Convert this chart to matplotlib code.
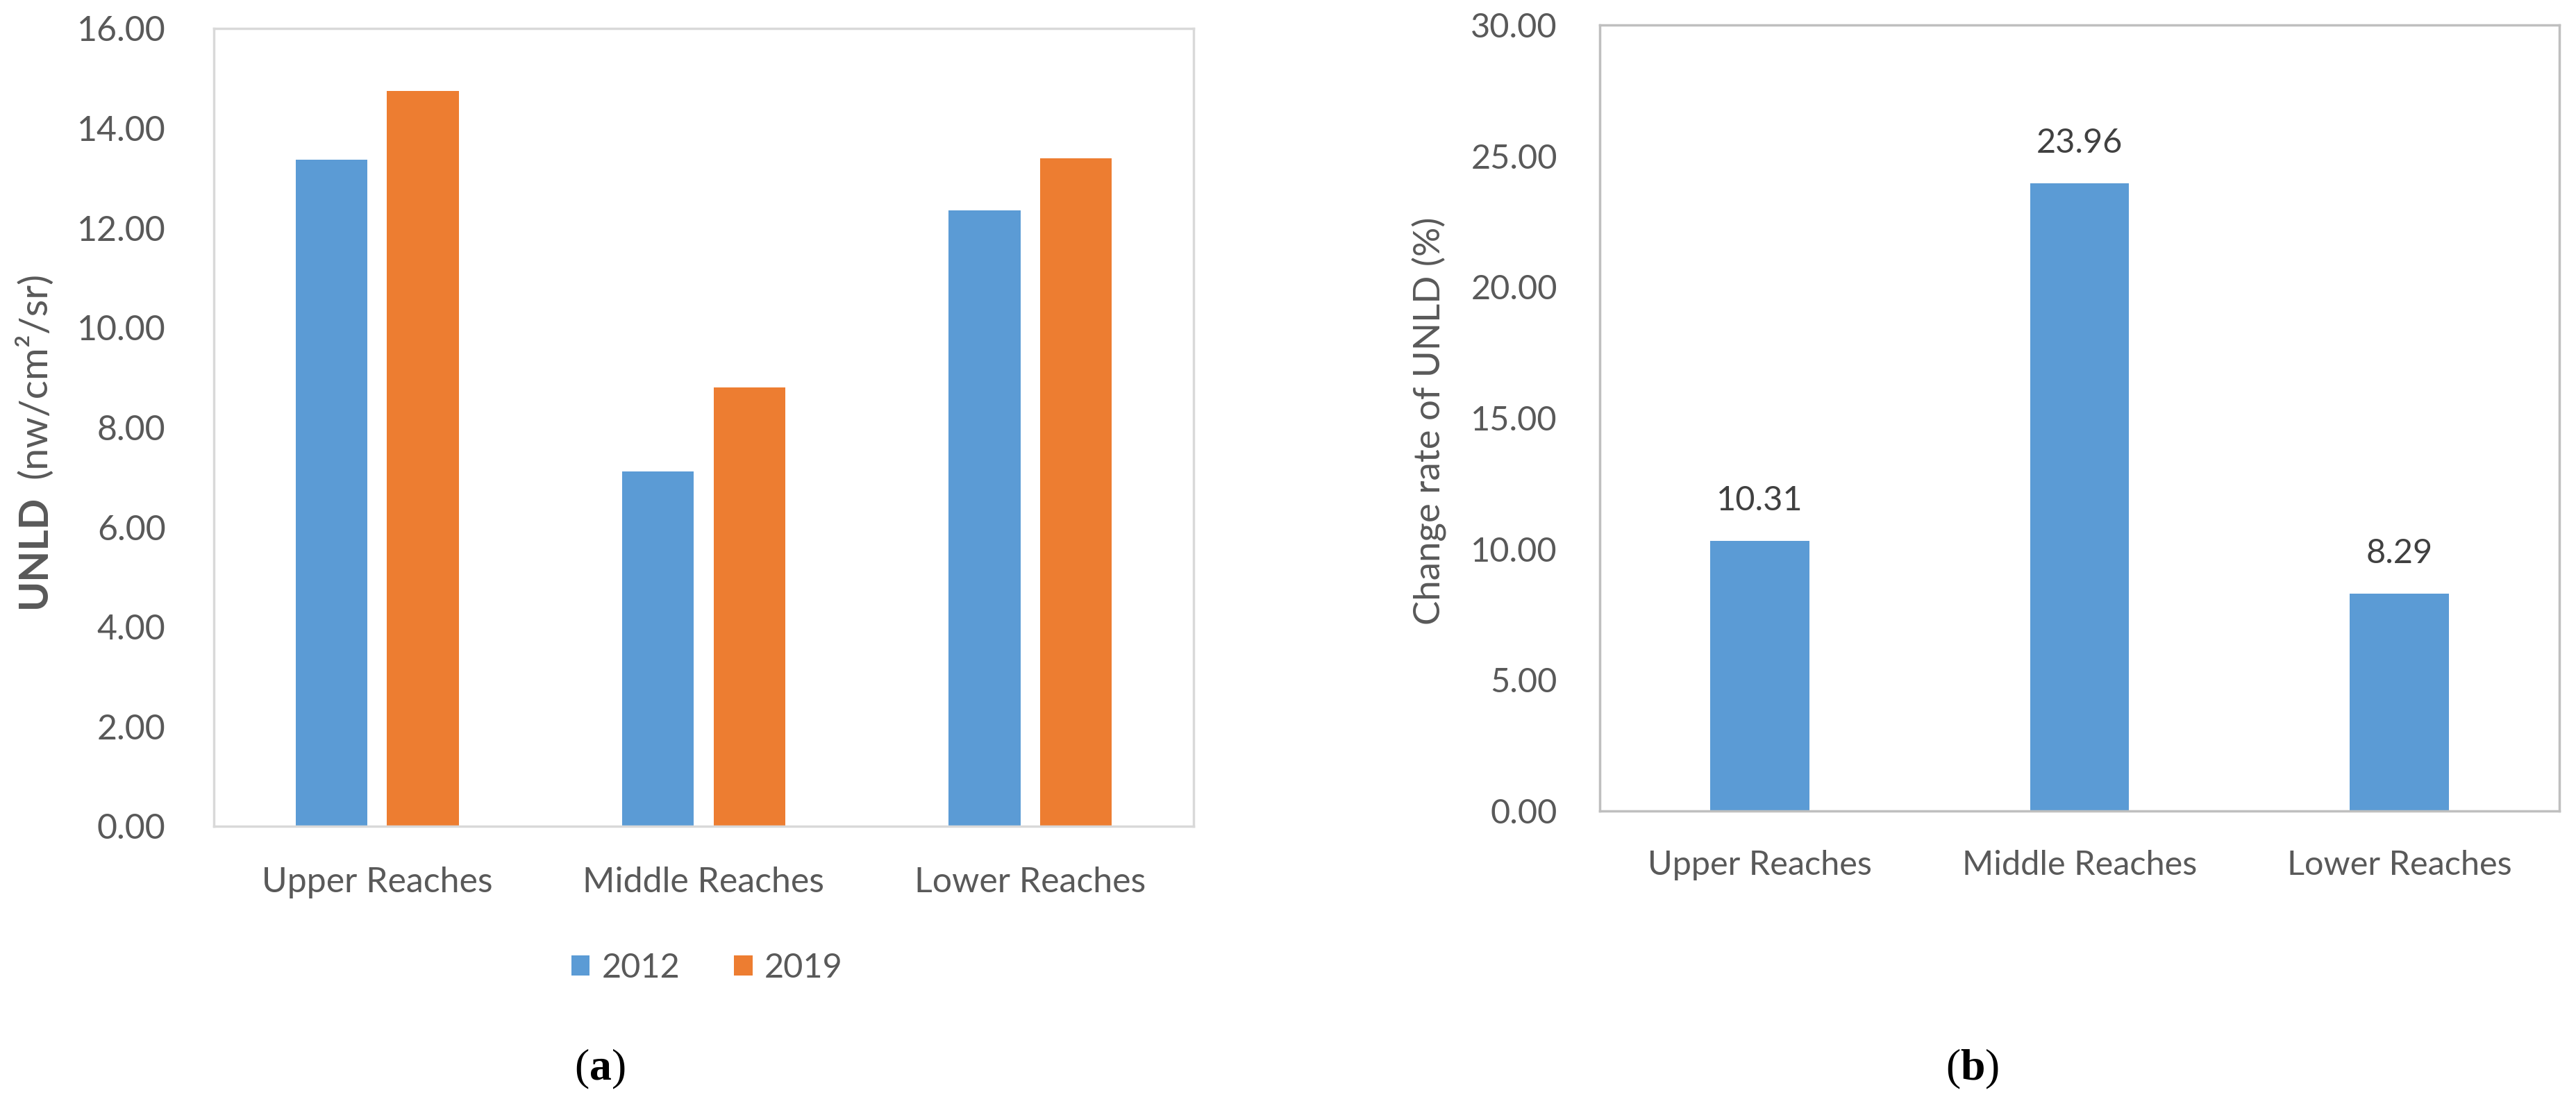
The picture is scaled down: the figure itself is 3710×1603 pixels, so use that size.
import numpy as np
import matplotlib
matplotlib.use("Agg")
import matplotlib.pyplot as plt

# Datos
categorias = ["Upper Reaches", "Middle Reaches", "Lower Reaches"]
anios = ["2012", "2019"]
unld_2012 = [13.37, 7.11, 12.35]
unld_2019 = [14.74, 8.80, 13.39]
tasa_cambio = [10.31, 23.96, 8.29]
ticks_a = [0, 2, 4, 6, 8, 10, 12, 14, 16]
ticks_b = [0, 5, 10, 15, 20, 25, 30]

azul = "#5B9BD5"
naranja = "#ED7D31"
gris_txt = "#595959"

plt.rcParams['font.family'] = ['Lato', 'DejaVu Sans']
plt.rcParams['mathtext.fontset'] = 'custom'
plt.rcParams['mathtext.rm'] = 'Liberation Serif'
plt.rcParams['mathtext.bf'] = 'Liberation Serif:bold'

W, H = 3710, 1603
fig = plt.figure(figsize=(W / 100, H / 100), dpi=100)
fig.patch.set_facecolor("white")

x = np.arange(len(categorias))

# ---- Panel (a)
ax1 = fig.add_axes([308 / W, 1 - 1190 / H, 1411 / W, 1149 / H])
ancho = 0.22
ax1.bar(x - 0.14, unld_2012, ancho, color=azul, label=anios[0], zorder=2)
ax1.bar(x + 0.14, unld_2019, ancho, color=naranja, label=anios[1], zorder=2)
ax1.set_xlim(-0.5, 2.5)
ax1.set_ylim(0, 16)
ax1.set_yticks(ticks_a)
ax1.set_yticklabels([f"{t:.2f}" for t in ticks_a])
ax1.set_xticks(x)
ax1.set_xticklabels(categorias)
ax1.tick_params(axis='y', length=0, pad=50, labelsize=36, labelcolor=gris_txt)
ax1.tick_params(axis='x', length=0, pad=42, labelsize=36, labelcolor=gris_txt)
for s in ax1.spines.values():
    s.set_color("#D9D9D9")
    s.set_linewidth(2.5)

# etiqueta del eje y: "UNLD" en negrita y las unidades a continuación
t1 = fig.text(66 / W, 1 - 876 / H, "UNLD", rotation=90, rotation_mode='anchor',
              ha='left', va='baseline', fontsize=42, fontweight='bold', color=gris_txt)
fig.canvas.draw()
bb = t1.get_window_extent()
fig.text(66 / W, (bb.y1 + 24) / H, "(nw/cm²/sr)", rotation=90, rotation_mode='anchor',
         ha='left', va='baseline', fontsize=41, color=gris_txt)

fig.legend(loc='center', bbox_to_anchor=(1018 / W, 1 - 1394 / H), ncol=2,
           frameon=False, fontsize=35, handlelength=0.55, handleheight=0.55,
           handletextpad=0.35, columnspacing=1.6, labelcolor=gris_txt)

# ---- Panel (b)
ax2 = fig.add_axes([2304 / W, 1 - 1168 / H, 1382 / W, 1132 / H])
barras = ax2.bar(x, tasa_cambio, 0.31, color=azul, zorder=2)
ax2.set_xlim(-0.5, 2.5)
ax2.set_ylim(0, 30)
ax2.set_yticks(ticks_b)
ax2.set_yticklabels([f"{t:.2f}" for t in ticks_b])
ax2.set_xticks(x)
ax2.set_xticklabels(categorias)
ax2.tick_params(axis='y', length=0, pad=44, labelsize=35, labelcolor=gris_txt)
ax2.tick_params(axis='x', length=0, pad=40, labelsize=35, labelcolor=gris_txt)
for s in ax2.spines.values():
    s.set_color("#BFBFBF")
    s.set_linewidth(2.5)
for b, v in zip(barras, tasa_cambio):
    ax2.annotate(f"{v:.2f}", (b.get_x() + b.get_width() / 2, v),
                 xytext=(0, 42), textcoords='offset points',
                 ha='center', va='center', fontsize=35, color="#404040")
fig.text(2059 / W, 1 - 606 / H, "Change rate of UNLD (%)", rotation=90,
         ha='center', va='center', fontsize=38, color=gris_txt)

# subtítulos
fig.text(864 / W, 1 - 1540 / H, r"($\mathbf{a}$)", ha='center', va='center',
         fontsize=46, family='Liberation Serif')
fig.text(2841 / W, 1 - 1540 / H, r"($\mathbf{b}$)", ha='center', va='center',
         fontsize=46, family='Liberation Serif')

fig.savefig("out.png", dpi=100, facecolor="white")
